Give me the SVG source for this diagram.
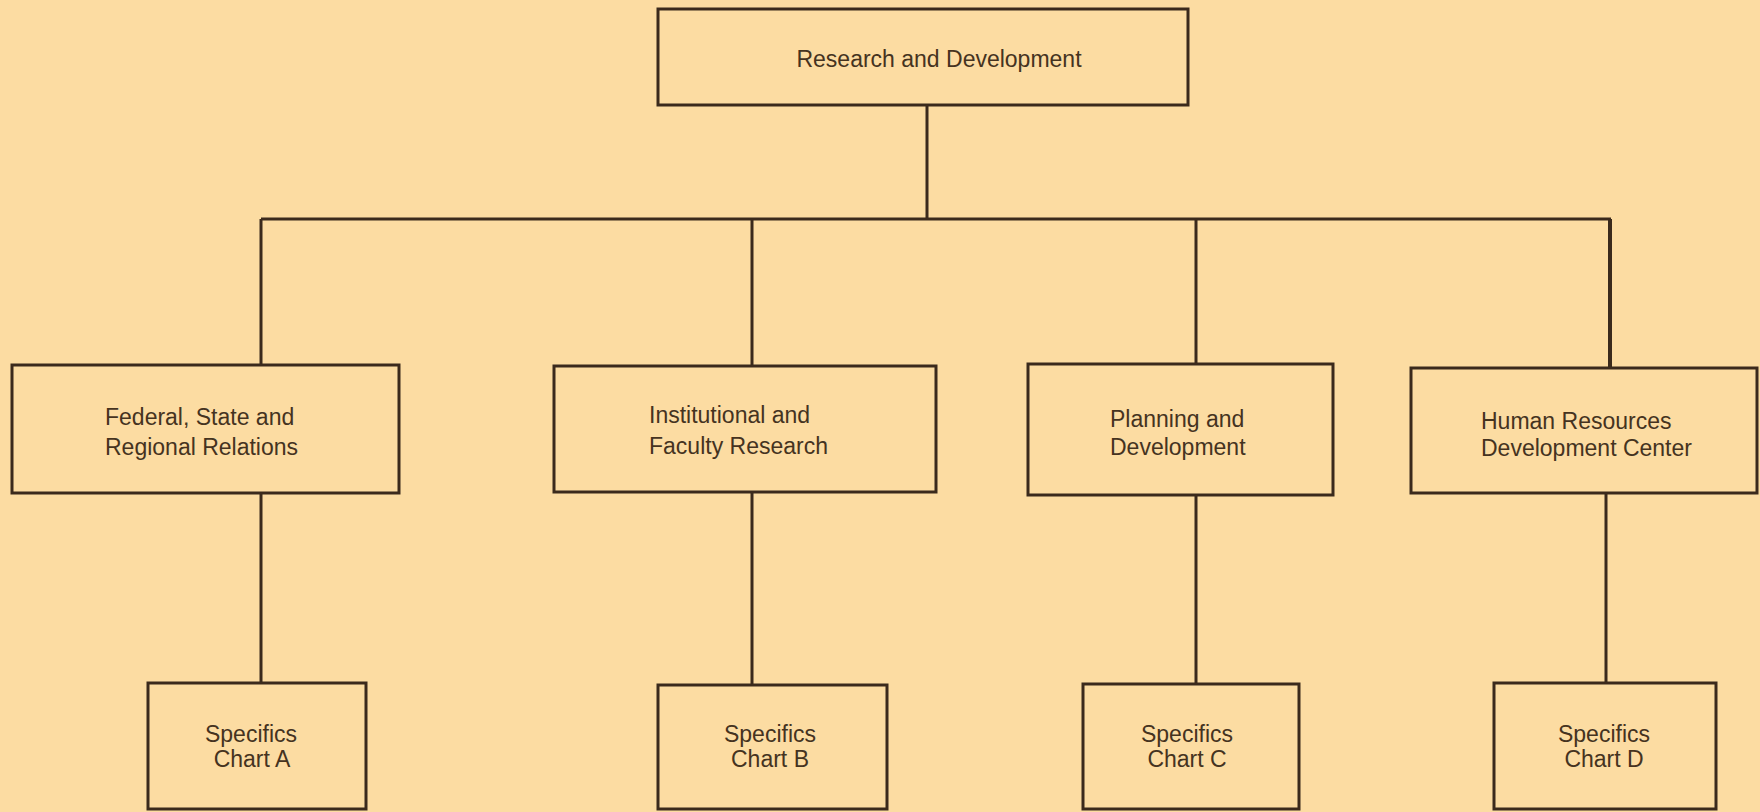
<svg xmlns="http://www.w3.org/2000/svg" width="1760" height="812" viewBox="0 0 1760 812">
<style>
.box{fill:none;stroke:#3b2a1c;stroke-width:3}
.ln{stroke:#3b2a1c;stroke-width:3;fill:none}
text{font-family:"Liberation Sans",Arial,sans-serif;font-size:23px;fill:#45331f}
.m{text-anchor:middle}
</style>
<rect x="0" y="0" width="1760" height="812" fill="#fcdca2"/>
<g id="connectors">
<line class="ln" x1="927" y1="105" x2="927" y2="219"/>
<line class="ln" x1="261" y1="219" x2="1611" y2="219"/>
<line class="ln" x1="261" y1="219" x2="261" y2="366"/>
<line class="ln" x1="752" y1="219" x2="752" y2="366"/>
<line class="ln" x1="1196" y1="219" x2="1196" y2="364"/>
<line class="ln" x1="1610" y1="219" x2="1610" y2="368" style="stroke-width:4"/>
<line class="ln" x1="261" y1="493" x2="261" y2="683"/>
<line class="ln" x1="752" y1="492" x2="752" y2="685"/>
<line class="ln" x1="1196" y1="495" x2="1196" y2="684"/>
<line class="ln" x1="1606" y1="493" x2="1606" y2="683"/>
</g>
<g id="rd">
<rect class="box" x="658" y="9" width="530" height="96"/>
<text class="m" x="939" y="67">Research and Development</text>
</g>
<g id="federal">
<rect class="box" x="12" y="365" width="387" height="128"/>
<text x="105" y="425">Federal, State and</text>
<text x="105" y="455">Regional Relations</text>
</g>
<g id="institutional">
<rect class="box" x="554" y="366" width="382" height="126"/>
<text x="649" y="423">Institutional and</text>
<text x="649" y="454">Faculty Research</text>
</g>
<g id="planning">
<rect class="box" x="1028" y="364" width="305" height="131"/>
<text x="1110" y="427">Planning and</text>
<text x="1110" y="455">Development</text>
</g>
<g id="hr">
<rect class="box" x="1411" y="368" width="346" height="125"/>
<text x="1481" y="429">Human Resources</text>
<text x="1481" y="456">Development Center</text>
</g>
<g id="chartA">
<rect class="box" x="148" y="683" width="218" height="126"/>
<text class="m" x="251" y="742">Specifics</text>
<text class="m" x="252" y="767">Chart A</text>
</g>
<g id="chartB">
<rect class="box" x="658" y="685" width="229" height="124"/>
<text class="m" x="770" y="742">Specifics</text>
<text class="m" x="770" y="767">Chart B</text>
</g>
<g id="chartC">
<rect class="box" x="1083" y="684" width="216" height="125"/>
<text class="m" x="1187" y="742">Specifics</text>
<text class="m" x="1187" y="767">Chart C</text>
</g>
<g id="chartD">
<rect class="box" x="1494" y="683" width="222" height="126"/>
<text class="m" x="1604" y="742">Specifics</text>
<text class="m" x="1604" y="767">Chart D</text>
</g>
</svg>
